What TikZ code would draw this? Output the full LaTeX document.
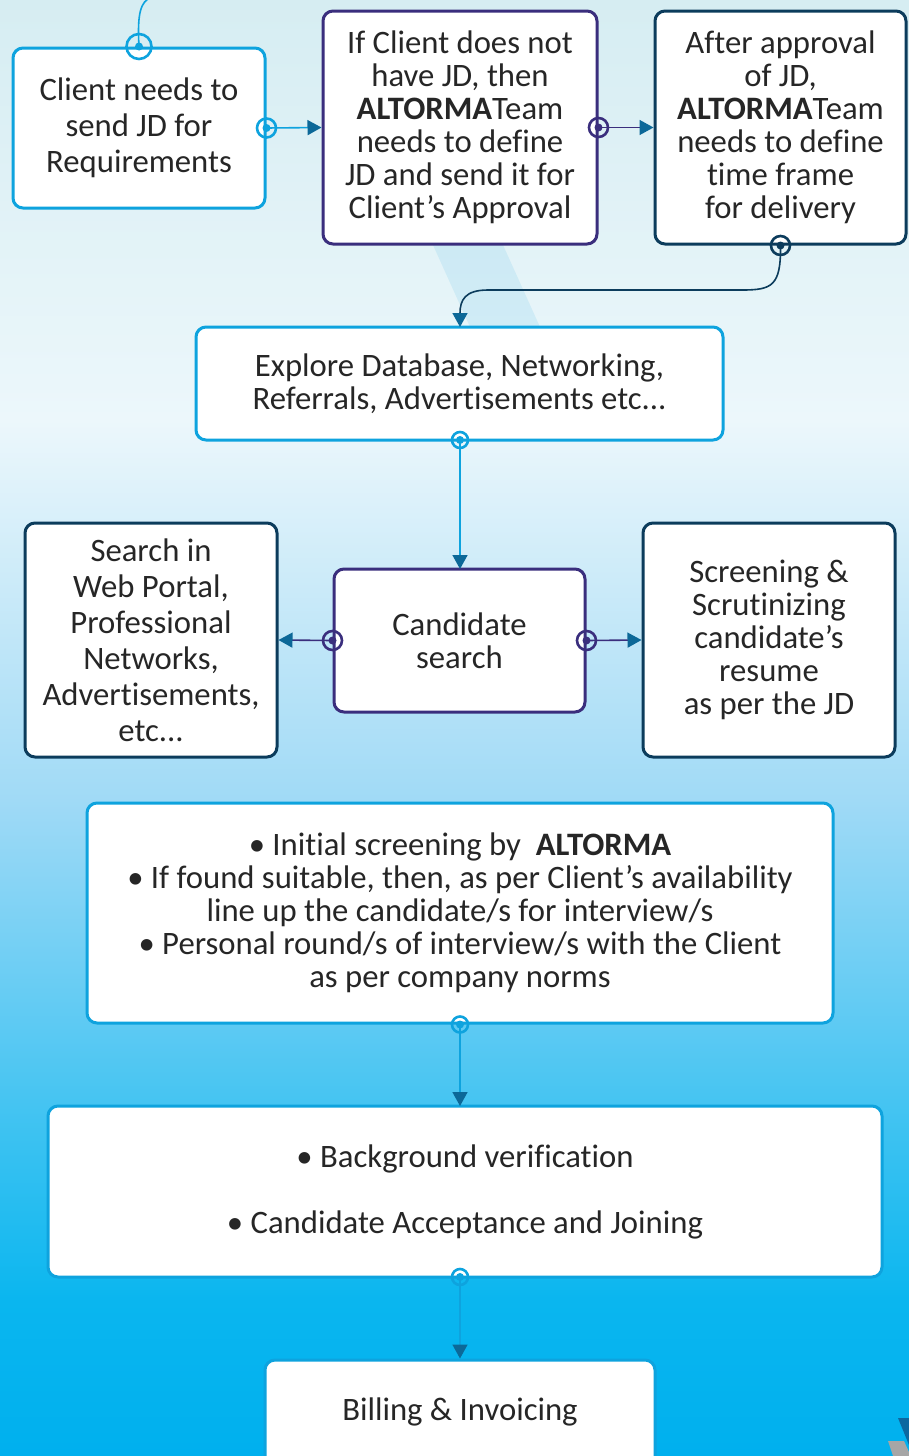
\documentclass[tikz,border=0pt]{standalone}
\usepackage{fontspec}
\setmainfont{Carlito}[Ligatures={NoCommon}]
\usetikzlibrary{arrows.meta,calc}
\definecolor{cyanb}{RGB}{14,163,222}
\definecolor{purpb}{RGB}{58,46,125}
\definecolor{navyb}{RGB}{12,60,92}
\definecolor{tipc}{RGB}{12,104,152}
\definecolor{logoc}{RGB}{12,104,160}
\definecolor{txt}{RGB}{38,38,38}
\definecolor{bgA}{RGB}{214,237,242}
\definecolor{bgB}{RGB}{236,247,251}
\definecolor{bgC}{RGB}{160,218,246}
\definecolor{bgD}{RGB}{10,182,239}
\definecolor{bgE}{RGB}{0,176,238}
\tikzset{
  box/.style={draw=#1, line width=3pt, rounded corners=10pt, fill=white, text=txt,
    align=center, inner sep=0pt, font=\fontsize{32.7}{33}\selectfont},
  loose/.style={font=\fontsize{32.7}{36}\selectfont},
  conn/.style={draw=#1, line width=1.6pt, -{Triangle[length=14pt,width=15pt,fill=tipc,color=tipc]}},
  ring/.style={draw=#1, line width=2.6pt, circle, minimum size=19pt, inner sep=0pt},
  dotc/.style={fill=#1, circle, minimum size=8pt, inner sep=0pt},
}
\newcommand{\marker}[3][19pt]{%
  \node[ring=#2, minimum size=#1] at (#3) {};
  \node[dotc=#2] at (#3) {};}
\begin{document}
\begin{tikzpicture}[x=1pt,y=-1pt]
\useasboundingbox (0,0) rectangle (909,1456);
% background
\shade[top color=bgA, bottom color=bgB] (0,0) rectangle (909,421);
\shade[top color=bgB, bottom color=bgC] (0,420) rectangle (909,801);
\shade[top color=bgC, bottom color=bgD] (0,800) rectangle (909,1301);
\shade[top color=bgD, bottom color=bgE] (0,1300) rectangle (909,1456);
% faint watermark band
\fill[cyanb, opacity=0.10] (433,245) -- (503,245) -- (540,327) -- (470,327) -- cycle;
% logo fragment
\fill[logoc] (898,1418) -- (909,1418) -- (909,1445) -- cycle;
\fill[gray!70] (888,1441) -- (904,1441) -- (909,1452) -- (909,1456) -- (893,1456) -- cycle;

% boxes
\node[box=cyanb, loose, minimum width=252pt, minimum height=160pt] (b1) at (139,128)
  {Client needs to\\send JD for\\Requirements};
\node[box=purpb, minimum width=274pt, minimum height=233pt] (b2) at (460,127.5)
  {If Client does not\\have JD, then\\\textbf{ALTORMA}Team\\needs to define\\JD and send it for\\Client’s Approval};
\node[box=navyb, minimum width=251pt, minimum height=233pt] (b3) at (780.5,127.5)
  {After approval\\of JD,\\\textbf{ALTORMA}Team\\needs to define\\time frame\\for delivery};
\node[box=cyanb, minimum width=527pt, minimum height=113pt] (b4) at (459.5,383.5)
  {Explore Database, Networking,\\Referrals, Advertisements etc...};
\node[box=navyb, loose, minimum width=252pt, minimum height=234pt] (b5) at (151,640)
  {Search in\\Web Portal,\\Professional\\Networks,\\Advertisements,\\etc...};
\node[box=purpb, minimum width=251pt, minimum height=143pt] (b6) at (459.5,640.5)
  {Candidate\\search};
\node[box=navyb, minimum width=252pt, minimum height=234pt] (b7) at (769,640)
  {Screening \&\\Scrutinizing\\candidate’s\\resume\\as per the JD};
\node[box=cyanb, minimum width=746pt, minimum height=220pt] (b8) at (460,913)
  {\textbullet\ Initial screening by\ \ \textbf{ALTORMA}\\
   \textbullet\ If found suitable, then, as per Client’s availability\\
   line up the candidate/s for interview/s\\
   \textbullet\ Personal round/s of interview/s with the Client\\
   as per company norms};
\node[box=cyanb, minimum width=834pt, minimum height=171pt] (b9) at (465,1191.5)
  {\textbullet\ Background verification\\[33pt]\textbullet\ Candidate Acceptance and Joining};
\node[box=cyanb, minimum width=390pt, minimum height=110pt] (b10) at (460,1415) {};
\node[text=txt, font=\fontsize{32.7}{33}\selectfont] (t10) at (460,1412) {Billing \& Invoicing};

% connectors
\coordinate (top) at (151,-3);
\draw[cyanb, line width=1.6pt] (b1.north) .. controls (137,12) and (141,2) .. (top);
\marker[25pt]{cyanb}{b1.north}

\draw[conn=cyanb] (b1.east) -- (b2.west);
\marker{cyanb}{b1.east}

\draw[conn=purpb] (b2.east) -- (b3.west);
\marker{purpb}{b2.east}

\coordinate (b4in) at (460,327);
\draw[conn=navyb] (b3.south) .. controls (781,286) and (772,290) .. (742,290)
  -- (488,290) .. controls (465,290) and (460,300) .. (b4in);
\marker{navyb}{b3.south}

\coordinate (b4out) at (460,440);
\coordinate (b6in) at (460,569);
\draw[conn=cyanb] (b4out) -- (b6in);
\marker[16pt]{cyanb}{b4out}

\draw[conn=purpb] (b6.west) -- (b5.east);
\marker{purpb}{b6.west}
\draw[conn=purpb] (b6.east) -- (b7.west);
\marker{purpb}{b6.east}

\coordinate (b9in) at (460,1106);
\draw[conn=cyanb] (b8.south) -- (b9in);
\marker[16pt]{cyanb}{b8.south}

\coordinate (b9out) at (460,1277);
\draw[conn=cyanb] (b9out) -- (b10.north);
\marker[16pt]{cyanb}{b9out}
\end{tikzpicture}
\end{document}
